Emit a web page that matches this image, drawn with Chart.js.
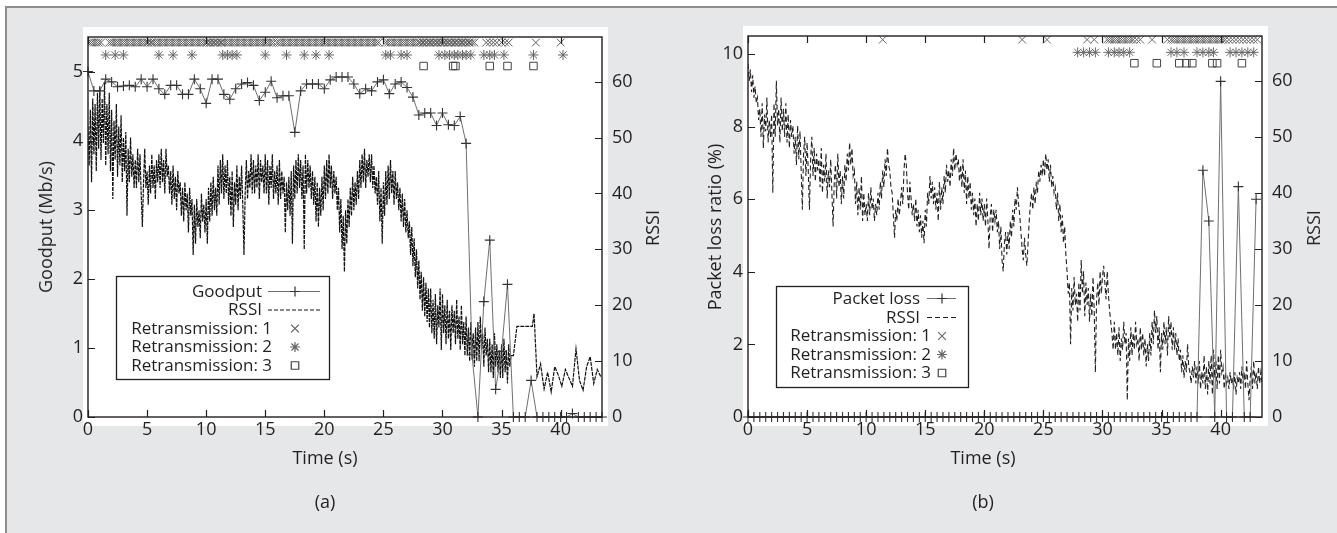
<!DOCTYPE html>
<html><head><meta charset="utf-8">
<script src="https://cdn.jsdelivr.net/npm/chart.js@4.4.1/dist/chart.umd.min.js"></script>
<style>
html,body{margin:0;padding:0;background:#fff;}
body{width:1337px;height:533px;position:relative;overflow:hidden;font-family:'Open Sans',sans-serif;color:#231f20;}
#frame{position:absolute;left:5px;top:6px;width:1340px;height:540px;background:#e6e7e8;border-top:2px solid #8d8d8d;border-left:2px solid #8d8d8d;}
canvas{position:absolute;top:0;}
#cA{left:0;width:668px;height:533px;}
#cB{left:668px;width:669px;height:533px;}
.lbl{position:absolute;font-size:18px;line-height:1;white-space:nowrap;transform:translate(-50%,-50%);}
.rot{transform:translate(-50%,-50%) rotate(-90deg);}
</style></head><body>
<div id="frame"></div>
<canvas id="cA" width="668" height="533"></canvas>
<canvas id="cB" width="669" height="533"></canvas>
<div class="lbl rot" style="left:45px;top:227px">Goodput (Mb/s)</div>
<div class="lbl rot" style="left:652px;top:228px">RSSI</div>
<div class="lbl" style="left:325px;top:457px">Time (s)</div>
<div class="lbl" style="left:325px;top:501px">(a)</div>
<div class="lbl rot" style="left:714px;top:227px">Packet loss ratio (%)</div>
<div class="lbl rot" style="left:1313px;top:228px">RSSI</div>
<div class="lbl" style="left:983px;top:457px">Time (s)</div>
<div class="lbl" style="left:983px;top:501px">(b)</div>
<script>
// ---------- data ----------
const xTicksStep = 5;
const timeMax = 43.5;

// (a) goodput, Mb/s, sampled every 0.5 s from t = 0
const goodputStep = 0.5;
const goodputA = [
 5.0,4.72,4.72,4.89,4.85,4.78,4.79,4.80,4.78,4.89,
 4.78,4.89,4.75,4.67,4.80,4.80,4.67,4.67,4.89,4.75,
 4.54,4.89,4.89,4.67,4.60,4.75,4.82,4.84,4.80,4.58,
 4.70,4.86,4.62,4.65,4.65,4.12,4.72,4.82,4.82,4.82,
 4.75,4.88,4.92,4.92,4.92,4.82,4.68,4.75,4.72,4.85,
 4.88,4.68,4.82,4.85,4.77,4.63,4.37,4.40,4.40,4.22,
 4.40,4.23,4.22,4.35,3.96,0.9,0,1.67,2.56,0.4,
 0.95,1.92,0,0,0,0.53,0,0,0,0,
 0,0,0.05,0,0,0,0,0];

// (a) RSSI, sampled every 0.1 s from t = 0 to 36 s
const rssiStep = 0.1;
const rssiA = [
 52,45,55,42,57,47,56,44,58,48, 59,46,57,49,60,45,56,47,58,44,
 55,39,53,46,56,43,52,45,54,42, 50,44,51,36,48,42,50,43,47,41,
 46,41,48,42,47,40,34,42,48,41, 44,38,45,40,47,41,45,39,46,42,
 47,41,48,42,46,40,48,43,45,40, 44,38,45,39,43,37,44,40,42,36,
 41,35,42,37,40,33,41,36,39,29, 38,31,39,34,37,32,40,35,38,33,
 39,31,41,35,42,36,43,37,41,36, 45,38,46,40,47,39,45,40,46,38,
 43,36,44,34,42,38,45,37,43,39, 45,38,29,40,46,39,44,41,47,40,
 46,40,45,41,47,39,46,42,45,40, 47,40,46,38,45,41,47,39,44,40,
 45,38,46,39,44,40,43,33,42,37, 43,36,44,31,45,39,46,40,47,41,
 46,39,45,30,47,40,46,41,45,39, 44,38,43,35,42,34,41,36,43,37,
 45,39,46,40,47,41,45,39,44,40, 43,37,41,33,39,30,36,26,37,31,
 39,34,41,36,43,37,42,38,44,39, 46,41,47,42,48,41,46,43,47,42,
 47,41,45,40,43,38,44,35,41,31, 42,36,44,38,45,39,46,40,44,38,
 44,39,42,37,41,35,40,34,39,33, 37,32,35,29,34,27,32,25,30,23,
 28,21,26,19,25,18,24,17,23,16, 23,15,21,14,22,13,20,16,23,12,
 22,15,20,13,21,14,19,12,20,15, 19,13,21,14,18,12,20,13,17,11,
 18,11,16,10,17,12,15,9,16,10, 17,10,18,12,15,9,16,11,14,8,
 14,8,13,7,15,9,13,8,12,7, 13,7,14,8,12,6,13,9,11,11,
 11];
// (a) RSSI after 36 s (sparse samples)
const rssiATailT = [36.3,37.6,37.75,38.0,38.3,38.6,38.9,39.2,39.5,39.8,40.1,40.4,40.7,41.0,41.3,41.6,41.9,42.2,42.5,42.8,43.1,43.4];
const rssiATailV = [16.2,16.2,18.5,7.2,9.5,5.0,8.0,4.5,9.0,7.5,5.5,8.5,7.0,5.5,12.2,6.5,4.8,9.0,10.8,6.0,8.5,7.2];

// (a) retransmission event times (s)
const retr1A = [0.1,0.3,0.5,0.7,0.9,1.1,1.8,2.0,2.2,2.4,2.6,2.8,3.0,3.2,3.4,3.6,3.8,4.0,4.2,4.4,4.6,4.8,5.0,5.1,5.3,5.4,5.6,5.8,6.0,6.2,6.4,6.6,6.8,7.0,7.2,7.4,7.6,7.8,8.0,8.2,8.4,8.6,8.8,9.0,9.2,9.4,9.6,9.8,10.0,10.1,10.3,10.4,10.6,10.7,10.9,11.0,11.2,11.3,11.5,11.7,11.9,12.1,12.3,12.5,12.7,12.9,13.1,13.3,13.5,13.7,13.9,14.1,14.3,14.5,14.7,14.9,15.1,15.3,15.5,15.7,16.0,16.2,16.4,16.6,16.8,17.0,17.2,17.4,17.6,17.8,18.0,18.2,18.4,18.6,18.8,19.0,19.2,19.4,19.6,19.8,20.0,20.2,20.4,20.6,20.8,21.0,21.2,21.4,21.6,21.8,22.0,22.2,22.4,22.6,22.8,23.0,23.2,23.4,23.6,23.8,24.0,24.2,24.4,24.6,25.2,25.4,25.6,25.8,26.0,26.2,26.4,26.6,26.8,27.0,27.2,27.4,27.6,27.8,28.0,28.1,28.3,28.4,28.6,28.7,28.9,29.0,29.2,29.3,29.5,29.6,29.8,29.9,30.1,30.2,30.4,30.5,30.7,30.8,31.0,31.1,31.3,31.4,31.6,31.7,31.9,32.0,32.2,32.3,32.5,32.7,33.7,34.0,34.3,34.6,35.0,35.3,35.6,37.9,40.0];
const retr2A = [1.5,2.3,3.0,6.0,7.2,8.8,11.4,11.8,12.2,12.6,15.0,16.8,18.3,19.3,20.4,25.2,25.6,26.5,27.0,29.7,30.2,30.6,31.0,31.3,31.7,32.0,32.4,33.5,34.0,34.4,35.2,37.7,40.2];
const retr3A = [28.4,30.9,31.1,34.0,35.5,37.7];
const retrRowA = [5.42,5.24,5.08];

// (b) packet loss ratio (%), sampled every 0.5 s from t = 0
const lossStep = 0.5;
const lossB = [
 0,0,0,0,0,0,0,0,0,0, 0,0,0,0,0,0,0,0,0,0,
 0,0,0,0,0,0,0,0,0,0, 0,0,0,0,0,0,0,0,0,0,
 0,0,0,0,0,0,0,0,0,0, 0,0,0,0,0,0,0,0,0,0,
 0,0,0,0,0,0,0,0,0,0, 0,0,0,0,0,0,
 0,6.8,5.4,0,9.25,0,0,6.35,0,0,6.0];

// (b) RSSI, sampled every 0.1 s from t = 0
const rssiB = [
 63,60,62,58,61,57,59,56,57,53, 55,50,56,48,54,51,57,49,53,50,
 54,40,56,50,60,52,55,49,57,51, 55,50,56,49,54,48,53,50,52,47,
 50,45,52,46,51,44,37,47,50,43, 49,44,37,46,50,43,48,42,47,44,
 46,41,48,40,45,42,47,39,44,41, 46,40,34,42,45,39,47,41,44,38,
 43,39,45,42,47,44,49,45,48,43, 44,38,42,36,41,37,43,35,40,36,
 38,35,40,36,41,37,39,35,38,36, 40,37,42,39,44,41,46,43,48,45,
 44,41,40,36,32,37,35,39,36,38, 41,38,44,47,45,40,37,42,39,36,
 38,35,39,34,37,33,36,32,35,31, 37,34,40,38,43,39,42,38,41,37,
 40,35,42,37,41,38,43,40,45,42, 44,41,46,43,48,44,47,45,46,42,
 45,41,46,40,44,38,43,39,42,37, 40,36,39,34,38,35,40,36,39,35,
 38,34,39,35,30,36,38,33,37,35, 37,33,35,30,34,28,26,31,33,29,
 33,30,35,32,37,34,39,37,41,38, 36,33,30,28,32,29,27,31,35,38,
 40,37,41,38,42,40,44,42,45,43, 46,43,47,44,46,42,45,41,43,40,
 41,37,40,35,38,33,36,31,34,29, 26,22,24,13,23,19,25,20,22,17,
 24,19,28,22,26,18,24,20,23,17, 22,18,25,19,8,21,24,20,26,22,
 25,27,24,21,26,22,19,17,15,12, 17,12,15,11,16,10,14,12,17,13,
 15,3,14,10,16,11,15,12,17,13, 14,10,16,12,15,11,14,9,13,10,
 15,11,17,13,19,15,18,12,16,8, 15,12,17,13,16,11,18,14,17,12,
 16,12,15,11,14,10,12,8,11,7, 10,8,13,9,8,6,9,7,10,6,
 9,6,10,5,8,6,11,5,9,4, 10,6,11,4,12,7,10,5,11,6,
 12,8,9,5,8,6,7,5,8,6, 7,5,8,4,7,6,8,5,9,6,
 8,5,10,6,3,7,9,5,10,6, 8,5,9,6,8,6];

// (b) retransmission event times (s)
const retr1B = [11.4,23.2,25.3,28.7,29.3,30.4,30.6,30.8,31.0,31.2,31.4,31.6,31.8,32.0,32.2,32.4,32.6,32.9,33.2,34.2,35.5,35.8,36.0,36.2,36.4,36.6,36.8,37.0,37.2,37.4,37.6,37.8,38.0,38.2,38.4,38.6,38.8,39.0,39.2,39.4,39.6,39.8,40.0,40.2,40.4,40.7,41.0,41.3,41.6,41.9,42.2,42.5,42.8,43.1];
const retr2B = [27.9,28.4,28.9,29.4,30.5,31.0,31.4,31.8,32.3,35.8,36.3,36.9,38.0,38.5,39.0,39.4,40.8,41.3,41.8,42.3,42.8];
const retr3B = [32.7,34.6,36.5,37.1,37.6,39.3,39.7,41.8];
const retrRowB = [10.4,10.05,9.75];

// ---------- helpers ----------
const FONT = "'Open Sans', sans-serif";
const INK = '#231f20';
const seq = (vals, step) => vals.map((v, i) => ({x: +(i * step).toFixed(2), y: v}));
const pairs = (ts, vs) => ts.map((t, i) => ({x: t, y: vs[i]}));
const row = (ts, level) => ts.map(t => ({x: t, y: level}));

function mark(ctx, style, r, x, y) {
  ctx.beginPath();
  const d = r * Math.SQRT1_2;
  if (style === 'cross' || style === 'star') { ctx.moveTo(x - r, y); ctx.lineTo(x + r, y); ctx.moveTo(x, y - r); ctx.lineTo(x, y + r); }
  if (style === 'crossRot' || style === 'star') { ctx.moveTo(x - d, y - d); ctx.lineTo(x + d, y + d); ctx.moveTo(x - d, y + d); ctx.lineTo(x + d, y - d); }
  if (style === 'rect') { ctx.rect(x - d, y - d, 2 * d, 2 * d); }
  ctx.stroke();
}

const boxPlugin = {
  id: 'boxPlugin',
  beforeDraw(chart, args, o) {
    const {ctx, chartArea: a} = chart;
    ctx.save();
    ctx.fillStyle = '#ffffff';
    ctx.fillRect(a.left - 5, a.top - 10, a.width + 11, a.height + 19);
    ctx.restore();
  },
  afterDatasetsDraw(chart, args, o) {
    const {ctx, chartArea: a, scales} = chart;
    ctx.save();
    ctx.strokeStyle = INK; ctx.lineWidth = 1.4;
    ctx.strokeRect(a.left, a.top, a.width, a.height);
    ctx.lineWidth = 1.2;
    ctx.beginPath();
    const L = 7;
    scales.x.ticks.forEach(t => {
      const p = Math.round(scales.x.getPixelForValue(t.value)) + 0.5;
      ctx.moveTo(p, a.bottom); ctx.lineTo(p, a.bottom - L);
      ctx.moveTo(p, a.top); ctx.lineTo(p, a.top + L);
    });
    scales.y.ticks.forEach(t => {
      const p = Math.round(scales.y.getPixelForValue(t.value)) + 0.5;
      ctx.moveTo(a.left, p); ctx.lineTo(a.left + L, p);
    });
    scales.y2.ticks.forEach(t => {
      const p = Math.round(scales.y2.getPixelForValue(t.value)) + 0.5;
      ctx.moveTo(a.right, p); ctx.lineTo(a.right - L, p);
    });
    ctx.stroke();
    ctx.restore();
  },
  afterDraw(chart, args, o) {
    const ctx = chart.ctx;
    const [x0, y0, x1, y1] = o.box;
    ctx.save();
    ctx.strokeStyle = INK; ctx.lineWidth = 1.3;
    ctx.strokeRect(x0 + 0.5, y0 + 0.5, x1 - x0, y1 - y0);
    ctx.font = '17px ' + FONT;
    ctx.textBaseline = 'middle'; ctx.textAlign = 'right';
    chart.data.datasets.forEach((ds, i) => {
      const y = o.rows[i];
      const isLine = ds.showLine !== false;
      ctx.fillStyle = INK;
      ctx.fillText(ds.label, isLine ? o.textRight : o.textRight2, y + 1);
      if (isLine) {
        ctx.save();
        ctx.strokeStyle = ds.borderColor; ctx.lineWidth = 1;
        ctx.setLineDash(o.dash && ds.borderDash ? o.dash : (ds.borderDash || []));
        ctx.beginPath(); ctx.moveTo(o.s0, y + 0.5); ctx.lineTo(o.s1, y + 0.5); ctx.stroke();
        ctx.restore();
      }
      if (ds.pointRadius > 0) {
        ctx.strokeStyle = ds.pointBorderColor; ctx.lineWidth = 1.2;
        mark(ctx, ds.pointStyle, ds.pointRadius, o.sm, y + 0.5);
      }
    });
    ctx.restore();
  }
};

function makeChart(id, cfg) {
  const W = cfg.W, H = 533;
  const axisFont = {family: FONT, size: 18};
  return new Chart(document.getElementById(id), {
    type: 'line',
    data: {datasets: cfg.datasets},
    plugins: [boxPlugin],
    options: {
      responsive: false, animation: false, devicePixelRatio: 1, events: [],
      layout: {padding: {top: cfg.top, left: 0, right: 0, bottom: 0}},
      elements: {line: {tension: 0}},
      plugins: {legend: {display: false}, tooltip: {enabled: false}, boxPlugin: cfg.key},
      scales: {
        x: {type: 'linear', min: 0, max: timeMax,
            ticks: {stepSize: xTicksStep, includeBounds: false, autoSkip: false, maxRotation: 0, color: INK, font: axisFont, padding: 2},
            grid: {display: false, drawTicks: false}, border: {display: false},
            afterFit: s => { s.height = H - cfg.bottom; }},
        y: {position: 'left', min: 0, max: cfg.yMax,
            ticks: {stepSize: cfg.yStep, includeBounds: false, color: INK, font: axisFont, padding: 5},
            grid: {display: false, drawTicks: false}, border: {display: false},
            afterFit: s => { s.width = cfg.left; }},
        y2: {position: 'right', min: 0, max: 68,
            ticks: {stepSize: 10, includeBounds: false, color: INK, font: axisFont, padding: 10},
            grid: {display: false, drawTicks: false}, border: {display: false},
            afterFit: s => { s.width = W - cfg.right; }}
      }
    }
  });
}

const mkRetr = (label, ts, level, style, r, color) => ({
  label, data: row(ts, level), yAxisID: 'y', showLine: false,
  pointStyle: style, pointRadius: r, pointBorderColor: color, pointBackgroundColor: 'rgba(0,0,0,0)', pointBorderWidth: 1
});

makeChart('cA', {
  W: 668, top: 37, bottom: 417, left: 88, right: 602, yMax: 5.5, yStep: 1,
  key: {box: [116, 276, 329, 379], rows: [291, 309.5, 328, 346.5, 365], textRight: 262, textRight2: 272, s0: 268, s1: 320, sm: 295, dash: [4, 2]},
  datasets: [
    {label: 'Goodput', data: seq(goodputA, goodputStep), yAxisID: 'y', borderColor: '#707070', borderWidth: 1,
     pointStyle: 'cross', pointRadius: 5, pointBorderColor: '#333', pointBorderWidth: 1.1, clip: false},
    {label: 'RSSI', data: seq(rssiA, rssiStep).concat(pairs(rssiATailT, rssiATailV)), yAxisID: 'y2',
     borderColor: '#111', borderWidth: 1.2, borderDash: [4, 1], pointRadius: 0},
    mkRetr('Retransmission: 1', retr1A, retrRowA[0], 'crossRot', 5.5, '#5e5e5e'),
    mkRetr('Retransmission: 2', retr2A, retrRowA[1], 'star', 5, '#666'),
    mkRetr('Retransmission: 3', retr3A, retrRowA[2], 'rect', 5.3, '#444')
  ]
});

makeChart('cB', {
  W: 669, top: 36, bottom: 417, left: 80, right: 594, yMax: 10.5, yStep: 2,
  key: {box: [108, 286, 300, 387], rows: [298, 317, 335.5, 354, 372.5], textRight: 252, textRight2: 263, s0: 259, s1: 288, sm: 274},
  datasets: [
    {label: 'Packet loss', data: seq(lossB, lossStep), yAxisID: 'y', borderColor: '#707070', borderWidth: 1,
     pointStyle: 'cross', pointRadius: 5, pointBorderColor: '#333', pointBorderWidth: 1.1, clip: false},
    {label: 'RSSI', data: seq(rssiB, rssiStep), yAxisID: 'y2',
     borderColor: '#222', borderWidth: 1.1, borderDash: [5, 3], pointRadius: 0},
    mkRetr('Retransmission: 1', retr1B, retrRowB[0], 'crossRot', 5.5, '#6a6a6a'),
    mkRetr('Retransmission: 2', retr2B, retrRowB[1], 'star', 5, '#6a6a6a'),
    mkRetr('Retransmission: 3', retr3B, retrRowB[2], 'rect', 5.3, '#444')
  ]
});
</script>
</body></html>
